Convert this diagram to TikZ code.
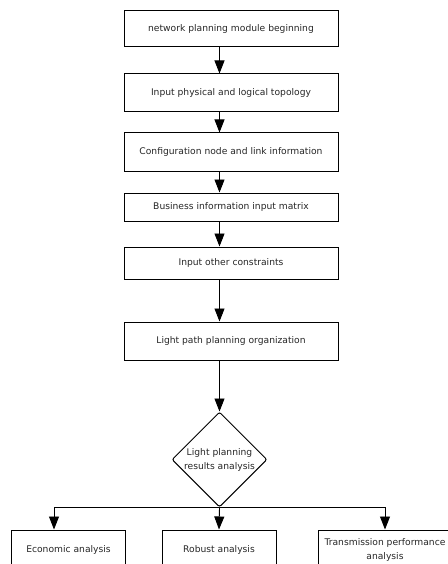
\documentclass[tikz,border=0pt]{standalone}
\usepackage{fontspec}
\setmainfont{DejaVu Sans}
\usetikzlibrary{arrows.meta,shapes.geometric}

\tikzset{
  stepbox/.style={draw, line width=1bp, minimum width=214bp, minimum height=38bp, inner sep=2bp, align=center},
  leafbox/.style={draw, line width=1bp, minimum height=40bp, inner sep=0bp, align=center},
  arr/.style={-{Triangle[length=13bp,width=10bp]}, line width=0.9bp}
}

\begin{document}
\begin{tikzpicture}[x=1bp, y=-1bp, font=\fontsize{9.2}{14}\selectfont, text=black!85]
        \useasboundingbox (0,0) rectangle (448,564);
        \node[stepbox, minimum height=36bp] (start) at (231,29) {network planning module beginning};
        \node[stepbox] (topo) at (231,93) {Input physical and logical topology};
        \node[stepbox] (conf) at (231,152) {Configuration node and link information};
        \node[stepbox, minimum height=28bp] (busi) at (231,207) {Business information input matrix};
        \node[stepbox, minimum height=32bp] (cons) at (231,263) {Input other constraints};
        \node[stepbox] (lpath) at (231,341) {Light path planning organization};
        \node[diamond, draw, line width=1bp, rounded corners=2bp, aspect=1, inner sep=0pt,
              minimum width=95bp, minimum height=95bp, align=center] (res) at (219.5,459.5)
              {Light planning\\results analysis};
        \node[leafbox, minimum width=113bp] (econ) at (68.5,550) {Economic analysis};
        \node[leafbox, minimum width=114bp] (robu) at (219,550) {Robust analysis};
        \node[leafbox, minimum width=134bp] (trans) at (385,550) {Transmission performance\\analysis};
        % main chain
        \draw[arr] (start.south -| res) -- (topo.north -| res);
        \draw[arr] (topo.south -| res) -- (conf.north -| res);
        \draw[arr] (conf.south -| res) -- (busi.north -| res);
        \draw[arr] (busi.south -| res) -- (cons.north -| res);
        \draw[arr] (cons.south -| res) -- (lpath.north -| res);
        \draw[arr] (lpath.south -| res) -- (res.north);
        % three branches
        \coordinate (hub) at (res.south);
        \draw[arr] (hub) -| ([xshift=-14.5bp]econ.north);
        \draw[arr] (hub) -- (robu.north);
        \draw[arr] (hub) -| (trans.north);
      \end{tikzpicture}
\end{document}
